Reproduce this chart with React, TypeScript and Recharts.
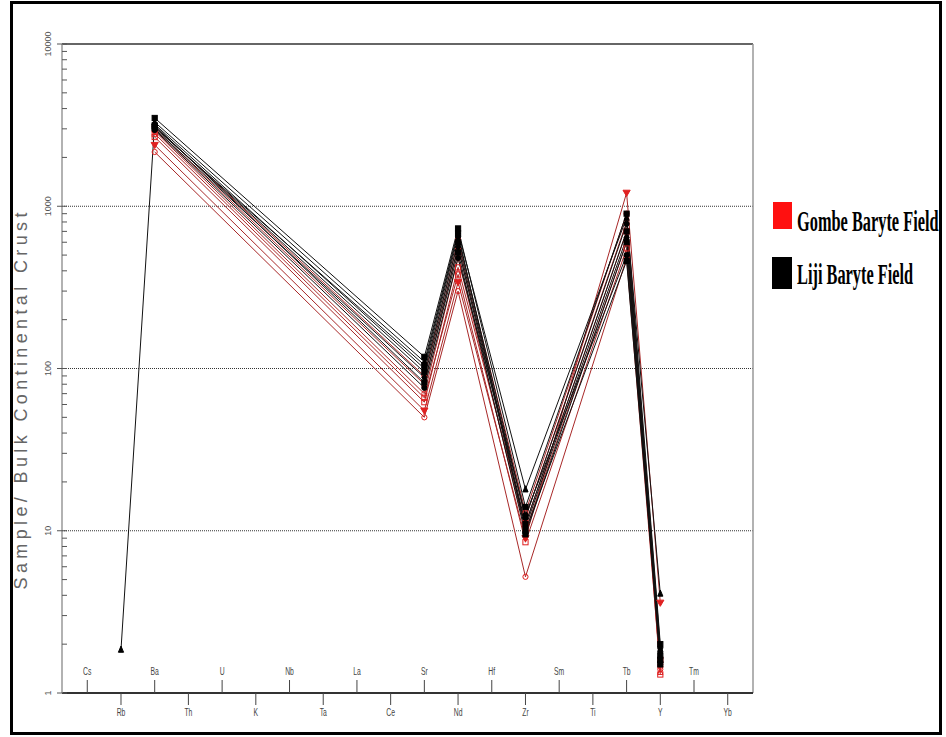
import React from "react";
import { LineChart, Line, XAxis, YAxis, ReferenceLine } from "recharts";

// Spider diagram elements (x axis order)
const elements = ["Cs", "Rb", "Ba", "Th", "U", "K", "Nb", "Ta", "La", "Ce", "Sr", "Nd", "Hf", "Zr", "Sm", "Ti", "Tb", "Y", "Tm", "Yb"];
// Elements actually analysed
const analysed = ["Rb", "Ba", "Sr", "Nd", "Zr", "Tb", "Y"];

// Gombe Baryte Field samples (values at analysed elements)
const gombe1 = [null, 2160, 50, 300, 5.2, 480, 1.4];
const gombe2 = [null, 2385, 55, 340, 9, 1210, 3.6];
const gombe3 = [null, 2670, 62, 420, 11, 700, 1.3];
const gombe4 = [null, 2900, 70, 480, 10, 600, 1.5];
const gombe5 = [null, 3000, 80, 560, 12, 800, 1.35];
const gombe6 = [null, 2800, 66, 380, 8.5, 550, 1.6];
const gombe7 = [null, 3100, 90, 620, 13, 900, 1.45];

// Liji Baryte Field samples
const liji1 = [1.85, 3300, 110, 700, 18, 850, 4.1];
const liji2 = [null, 3500, 118, 730, 14, 900, 2.0];
const liji3 = [null, 3200, 100, 650, 12, 780, 1.9];
const liji4 = [null, 3100, 95, 600, 11, 700, 1.7];
const liji5 = [null, 3000, 88, 560, 10.5, 640, 1.55];
const liji6 = [null, 3150, 82, 520, 9.5, 600, 1.5];
const liji7 = [null, 2950, 76, 480, 12.5, 500, 1.8];
const liji8 = [null, 3050, 105, 680, 10, 460, 1.6];

const yMajor = [1, 10, 100, 1000, 10000];
const yMajorLabels = ["1", "10", "100", "1000", "10000"];

const legendNames = ["Gombe Baryte Field", "Liji Baryte Field"];
const yTitle = "Sample/ Bulk Continental Crust";

const RED = "#a82828";
const RED_MARK = "#e02020";

const series = [
  { key: "g1", values: gombe1, color: RED, mark: RED_MARK, shape: "circle", fill: false },
  { key: "g2", values: gombe2, color: RED, mark: RED_MARK, shape: "invtri", fill: true },
  { key: "g3", values: gombe3, color: RED, mark: RED_MARK, shape: "square", fill: false },
  { key: "g4", values: gombe4, color: RED, mark: RED_MARK, shape: "circle", fill: false },
  { key: "g5", values: gombe5, color: RED, mark: RED_MARK, shape: "tri", fill: false },
  { key: "g6", values: gombe6, color: RED, mark: RED_MARK, shape: "square", fill: false },
  { key: "g7", values: gombe7, color: RED, mark: RED_MARK, shape: "circle", fill: false },
  { key: "l1", values: liji1, color: "#111", mark: "#000", shape: "tri", fill: true },
  { key: "l2", values: liji2, color: "#111", mark: "#000", shape: "square", fill: true },
  { key: "l3", values: liji3, color: "#111", mark: "#000", shape: "circle", fill: true },
  { key: "l4", values: liji4, color: "#111", mark: "#000", shape: "square", fill: true },
  { key: "l5", values: liji5, color: "#111", mark: "#000", shape: "diamond", fill: true },
  { key: "l6", values: liji6, color: "#111", mark: "#000", shape: "square", fill: true },
  { key: "l7", values: liji7, color: "#111", mark: "#000", shape: "circle", fill: true },
  { key: "l8", values: liji8, color: "#111", mark: "#000", shape: "square", fill: true },
];

const data = elements.map((el, i) => {
  const row: any = { idx: i, name: el };
  const j = analysed.indexOf(el);
  series.forEach((s) => {
    row[s.key] = j >= 0 ? s.values[j] : null;
  });
  return row;
});

const yTicks: number[] = [];
[1, 10, 100, 1000].forEach((d) => {
  for (let m = 1; m <= 9; m++) yTicks.push(d * m);
});
yTicks.push(10000);

const xTicks = elements.map((_, i) => i);

const YTick = (props: any) => {
  const { x, y, payload } = props;
  const v = payload.value;
  const mi = yMajor.indexOf(v);
  const major = mi >= 0;
  const lx = x - 13;
  return (
    <g>
      <line x1={major ? x - 5 : x} x2={x + 5} y1={y} y2={y} stroke="#555" strokeWidth={1} />
      {major && (
        <text
          x={lx}
          y={y}
          transform={`rotate(-90 ${lx} ${y})`}
          textAnchor="middle"
          dominantBaseline="middle"
          fontSize={9}
          fontFamily="Liberation Sans, Arial, sans-serif"
          fill="#555"
        >
          {yMajorLabels[mi]}
        </text>
      )}
    </g>
  );
};

const XTick = (props: any) => {
  const { x, y, payload } = props;
  const i = payload.value;
  const up = i % 2 === 0;
  const ty = up ? y - 21 : y + 20;
  return (
    <g>
      <line x1={x} x2={x} y1={y} y2={up ? y - 13 : y + 12} stroke="#444" strokeWidth={1} />
      <text
        transform={`translate(${x},${ty}) scale(0.62,1)`}
        textAnchor="middle"
        dominantBaseline="middle"
        fontSize={11}
        fontFamily="Liberation Sans, Arial, sans-serif"
        fill="#444"
      >
        {elements[i]}
      </text>
    </g>
  );
};

const makeDot = (s: any) => (p: any) => {
  const k = `${s.key}-${p.index}`;
  const { cx, cy } = p;
  if (cx == null || cy == null || p.value == null || (Array.isArray(p.value) && p.value[1] == null)) return <g key={k} />;
  const r = 2.6;
  const fill = s.fill ? s.mark : "none";
  const common = { stroke: s.mark, strokeWidth: 1, fill };
  if (s.shape === "circle") return <circle key={k} cx={cx} cy={cy} r={r} {...common} />;
  if (s.shape === "square") return <rect key={k} x={cx - r} y={cy - r} width={2 * r} height={2 * r} {...common} />;
  if (s.shape === "diamond")
    return <polygon key={k} points={`${cx},${cy - r - 1} ${cx + r},${cy} ${cx},${cy + r + 1} ${cx - r},${cy}`} {...common} />;
  if (s.shape === "tri")
    return <polygon key={k} points={`${cx},${cy - r - 1} ${cx + r},${cy + r} ${cx - r},${cy + r}`} {...common} />;
  return <polygon key={k} points={`${cx},${cy + r + 1} ${cx + r + 1},${cy - r} ${cx - r - 1},${cy - r}`} {...common} />;
};

export default function App() {
  return (
    <div style={{ position: "absolute", left: 0, top: 0, width: 946, height: 737, background: "#fff", overflow: "hidden" }}>
      <div style={{ position: "absolute", left: 0, top: 0 }}>
        <LineChart width={946} height={737} data={data} margin={{ top: 44, right: 193, bottom: 0, left: 12 }}>
          <XAxis
            type="number"
            dataKey="idx"
            domain={[-0.75, 19.75]}
            ticks={xTicks}
            interval={0}
            height={44}
            tickLine={false}
            tickSize={0}
            tickMargin={0}
            tick={<XTick />}
            axisLine={{ stroke: "#333", strokeWidth: 2 }}
            allowDataOverflow
          />
          <YAxis
            type="number"
            scale="log"
            domain={[1, 10000]}
            ticks={yTicks}
            interval={0}
            width={50}
            tickLine={false}
            tickSize={0}
            tickMargin={0}
            tick={<YTick />}
            axisLine={{ stroke: "#999", strokeWidth: 1.5 }}
            allowDataOverflow
          />
          <ReferenceLine y={10} stroke="#333" strokeDasharray="1 1" />
          <ReferenceLine y={100} stroke="#333" strokeDasharray="1 1" />
          <ReferenceLine y={1000} stroke="#333" strokeDasharray="1 1" />
          <ReferenceLine y={10000} stroke="#666" strokeWidth={2} />
          <ReferenceLine x={19.75} stroke="#999" strokeWidth={1.5} />
          {series.map((s) => (
            <Line
              key={s.key}
              dataKey={s.key}
              stroke={s.color}
              strokeWidth={1}
              connectNulls
              isAnimationActive={false}
              dot={makeDot(s)}
              activeDot={false}
            />
          ))}
        </LineChart>
      </div>
      <svg width={946} height={737} style={{ position: "absolute", left: 0, top: 0, pointerEvents: "none" }}>
        <rect x={11.5} y={2.5} width={929} height={731} fill="none" stroke="#000" strokeWidth={3} />
        <text
          x={22}
          y={401}
          transform="rotate(-90 22 401)"
          textAnchor="middle"
          dominantBaseline="middle"
          fontSize={18}
          fontFamily="Liberation Sans, Arial, sans-serif"
          fill="#666"
          textLength={377}
          lengthAdjust="spacing"
        >
          {yTitle}
        </text>
        <rect x={773} y={202} width={19} height={27} fill="#ff1010" />
        <rect x={772} y={257} width={20} height={32} fill="#000" />
        <text
          transform="translate(797,231) scale(0.545,1)"
          fontSize={30}
          fontWeight="bold"
          fontFamily="Liberation Serif, Times New Roman, serif"
          fill="#000"
        >
          {legendNames[0]}
        </text>
        <text
          transform="translate(797,284) scale(0.545,1)"
          fontSize={30}
          fontWeight="bold"
          fontFamily="Liberation Serif, Times New Roman, serif"
          fill="#000"
        >
          {legendNames[1]}
        </text>
      </svg>
    </div>
  );
}
